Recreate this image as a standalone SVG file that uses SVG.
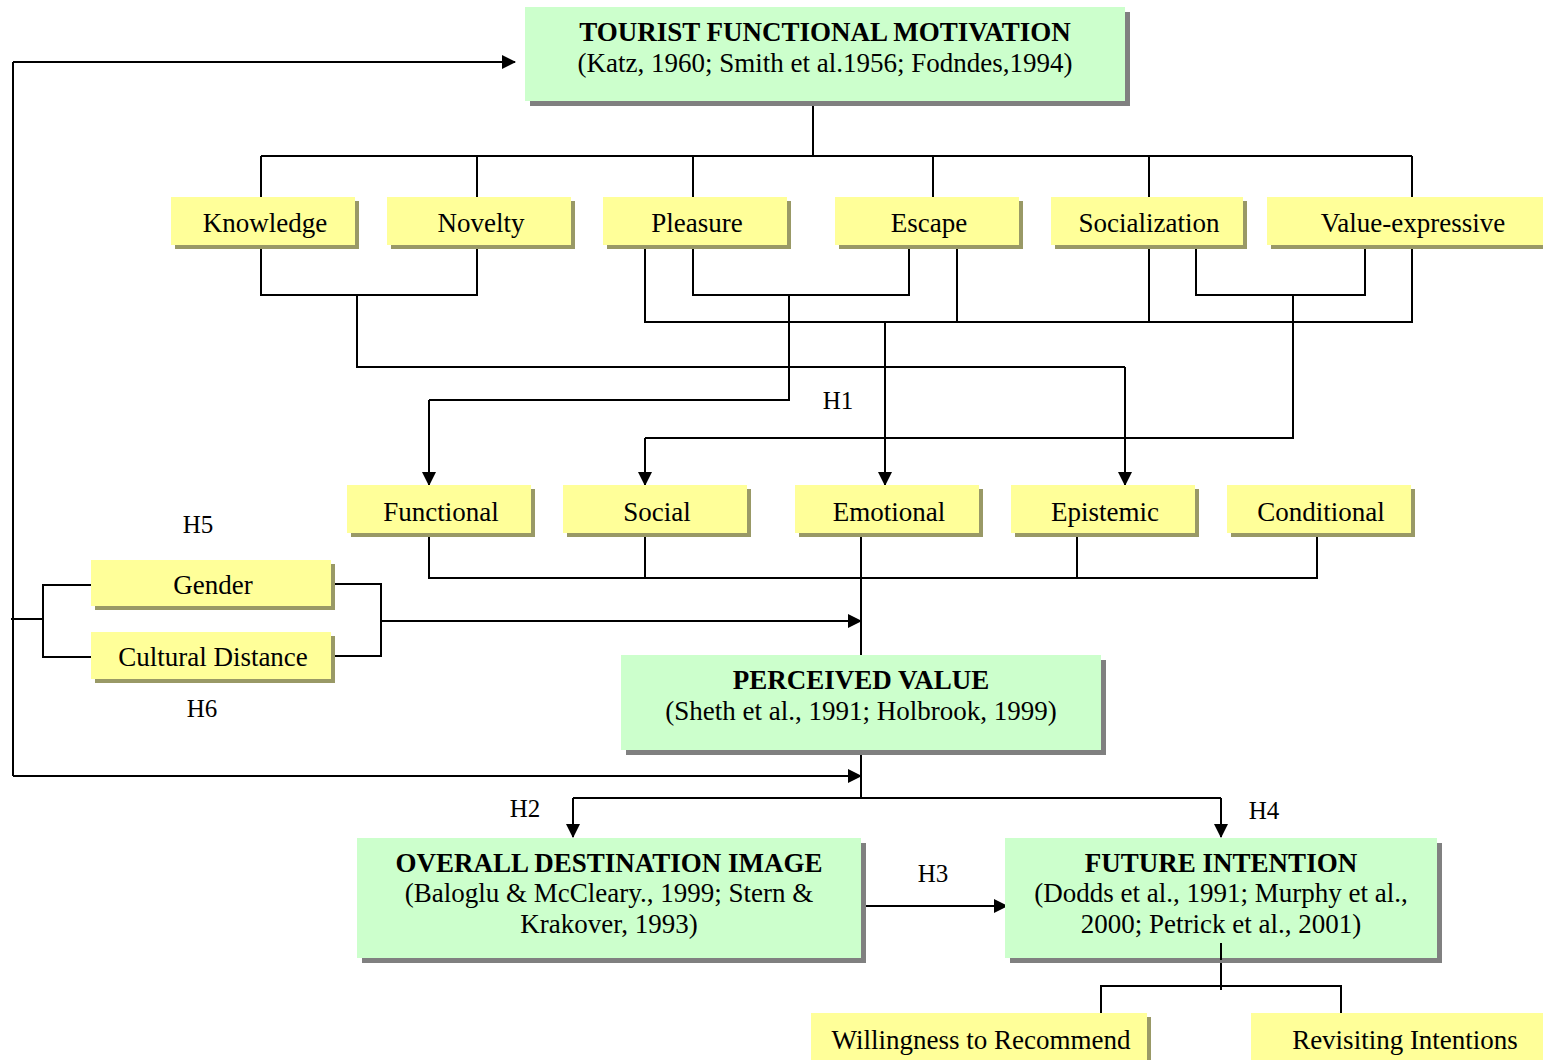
<svg xmlns="http://www.w3.org/2000/svg" width="1543" height="1060" viewBox="0 0 1543 1060">
<defs>
<marker id="arr" markerWidth="14" markerHeight="14" refX="13" refY="7" orient="auto" markerUnits="userSpaceOnUse">
<path d="M0,0 L14,7 L0,14 z" fill="#000"/>
</marker>
</defs>
<style>
text{font-family:"Liberation Serif","Times New Roman",serif;font-size:27px;fill:#000;text-anchor:middle}
.b{font-weight:bold}
.h{font-size:25px}
.g{fill:#CCFFCC}
.gs{fill:#808080}
.y{fill:#FFFF99}
.ys{fill:#999966}
.c{fill:none;stroke:#000;stroke-width:2}
.a{fill:none;stroke:#000;stroke-width:2;marker-end:url(#arr)}
</style>
<rect width="1543" height="1060" fill="#fff"/>

<g id="connectors">
<path class="c" d="M813,104 V156 M261,156 H1412 M261,156 V197 M477,156 V197 M693,156 V197 M933,156 V197 M1149,156 V197 M1412,156 V197"/>
<path class="c" d="M261,249 V295 H477 V249 M357,295 V367 H1125"/>
<path class="a" d="M1125,367 V485"/>
<path class="c" d="M693,249 V295 H909 V249 M789,295 V400 H429"/>
<path class="a" d="M429,400 V485"/>
<path class="c" d="M645,249 V322 H1412 V249 M957,249 V322 M1149,249 V322"/>
<path class="a" d="M885,322 V485"/>
<path class="c" d="M1196,249 V295 H1365 V249 M1293,295 V438 H645"/>
<path class="a" d="M645,438 V485"/>
<path class="c" d="M429,537 V578 H1317 V537 M645,537 V578 M861,537 V578 M1077,537 V578 M861,578 V655"/>
<path class="c" d="M91,585 H43 V657 H91 M11,619 H43 M331,584 H381 V656 H331"/>
<path class="a" d="M381,621 H861"/>
<path class="c" d="M13,776 V62"/>
<path class="a" d="M13,62 H515"/>
<path class="a" d="M13,776 H861"/>
<path class="c" d="M861,753 V798 M573,798 H1221"/>
<path class="a" d="M573,798 V837"/>
<path class="a" d="M1221,798 V837"/>
<path class="a" d="M865,906 H1007"/>
<path class="c" d="M1221,943 V990 M1101,1013 V986 H1341 V1013"/>
</g>

<g id="tourist-functional-motivation">
<rect class="gs" x="530" y="12" width="600" height="94"/>
<rect class="g" x="525" y="7" width="600" height="94"/>
<text class="b" x="825" y="41">TOURIST FUNCTIONAL MOTIVATION</text>
<text x="825" y="72">(Katz, 1960; Smith et al.1956; Fodndes,1994)</text>
</g>

<g id="knowledge"><rect class="ys" x="175" y="201" width="184" height="48"/><rect class="y" x="171" y="197" width="184" height="48"/><text x="265" y="232">Knowledge</text></g>
<g id="novelty"><rect class="ys" x="391" y="201" width="184" height="48"/><rect class="y" x="387" y="197" width="184" height="48"/><text x="481" y="232">Novelty</text></g>
<g id="pleasure"><rect class="ys" x="607" y="201" width="184" height="48"/><rect class="y" x="603" y="197" width="184" height="48"/><text x="697" y="232">Pleasure</text></g>
<g id="escape"><rect class="ys" x="839" y="201" width="184" height="48"/><rect class="y" x="835" y="197" width="184" height="48"/><text x="929" y="232">Escape</text></g>
<g id="socialization"><rect class="ys" x="1055" y="201" width="192" height="48"/><rect class="y" x="1051" y="197" width="192" height="48"/><text x="1149" y="232">Socialization</text></g>
<g id="value-expressive"><rect class="ys" x="1271" y="201" width="276" height="48"/><rect class="y" x="1267" y="197" width="276" height="48"/><text x="1413" y="232">Value-expressive</text></g>

<g id="functional"><rect class="ys" x="351" y="489" width="184" height="48"/><rect class="y" x="347" y="485" width="184" height="48"/><text x="441" y="521">Functional</text></g>
<g id="social"><rect class="ys" x="567" y="489" width="184" height="48"/><rect class="y" x="563" y="485" width="184" height="48"/><text x="657" y="521">Social</text></g>
<g id="emotional"><rect class="ys" x="799" y="489" width="184" height="48"/><rect class="y" x="795" y="485" width="184" height="48"/><text x="889" y="521">Emotional</text></g>
<g id="epistemic"><rect class="ys" x="1015" y="489" width="184" height="48"/><rect class="y" x="1011" y="485" width="184" height="48"/><text x="1105" y="521">Epistemic</text></g>
<g id="conditional"><rect class="ys" x="1231" y="489" width="184" height="48"/><rect class="y" x="1227" y="485" width="184" height="48"/><text x="1321" y="521">Conditional</text></g>

<g id="gender"><rect class="ys" x="95" y="564" width="240" height="46"/><rect class="y" x="91" y="560" width="240" height="46"/><text x="213" y="594">Gender</text></g>
<g id="cultural-distance"><rect class="ys" x="95" y="636" width="240" height="47"/><rect class="y" x="91" y="632" width="240" height="47"/><text x="213" y="666">Cultural Distance</text></g>

<g id="perceived-value">
<rect class="gs" x="626" y="660" width="480" height="95"/>
<rect class="g" x="621" y="655" width="480" height="95"/>
<text class="b" x="861" y="689">PERCEIVED VALUE</text>
<text x="861" y="720">(Sheth et al., 1991; Holbrook, 1999)</text>
</g>

<g id="overall-destination-image">
<rect class="gs" x="362" y="843" width="504" height="120"/>
<rect class="g" x="357" y="838" width="504" height="120"/>
<text class="b" x="609" y="872">OVERALL DESTINATION IMAGE</text>
<text x="609" y="902">(Baloglu &amp; McCleary., 1999; Stern &amp;</text>
<text x="609" y="933">Krakover, 1993)</text>
</g>

<g id="future-intention">
<rect class="gs" x="1010" y="843" width="432" height="120"/>
<rect class="g" x="1005" y="838" width="432" height="120"/>
<text class="b" x="1221" y="872">FUTURE INTENTION</text>
<text x="1221" y="902">(Dodds et al., 1991; Murphy et al.,</text>
<text x="1221" y="933">2000; Petrick et al., 2001)</text>
</g>
<path class="c" d="M1221,943 V960"/>

<g id="willingness"><rect class="ys" x="815" y="1017" width="336" height="48"/><rect class="y" x="811" y="1013" width="336" height="48"/><text x="981" y="1049">Willingness to Recommend</text></g>
<g id="revisiting"><rect class="ys" x="1255" y="1017" width="292" height="48"/><rect class="y" x="1251" y="1013" width="292" height="48"/><text x="1405" y="1049">Revisiting Intentions</text></g>

<g id="labels">
<text class="h" x="838" y="409">H1</text>
<text class="h" x="198" y="533">H5</text>
<text class="h" x="202" y="717">H6</text>
<text class="h" x="525" y="817">H2</text>
<text class="h" x="1264" y="819">H4</text>
<text class="h" x="933" y="882">H3</text>
</g>
</svg>
